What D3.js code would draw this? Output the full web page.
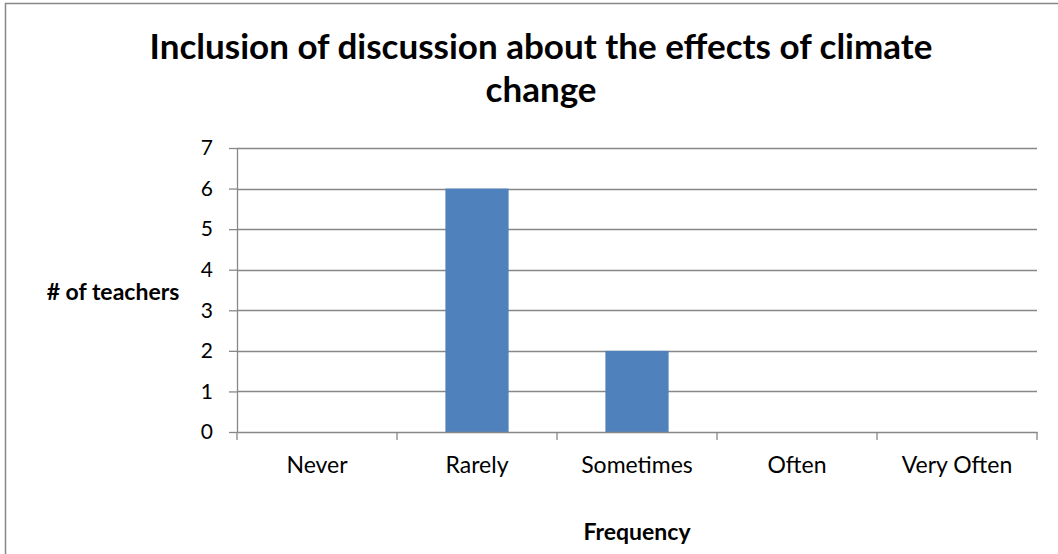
<!DOCTYPE html>
<html>
<head>
	<meta charset="utf-8">
	<title>Inclusion of discussion</title>
	<style type="text/css">
		body { margin: 0; background: white; }
		svg { display: block; font-family: Lato, "Open Sans", sans-serif; }
	</style>
</head>
<body>

	<svg width=1058 height=554 class="chart"></svg>

	<script type="text/javascript" src="https://cdn.jsdelivr.net/npm/d3@7"></script>

	<script type="text/javascript">

		var categories = ['Never', 'Rarely', 'Sometimes', 'Often', 'Very Often']
		var counts = [0, 6, 2, 0, 0]
		var yTicks = [0, 1, 2, 3, 4, 5, 6, 7]
		var titleLines = ['Inclusion of discussion about the effects of climate', 'change']

		var svg = d3.select('.chart')

		// outer chart border
		svg.append('rect')
			.attr('x', 5.5).attr('y', 3.5)
			.attr('width', 1070).attr('height', 570)
			.attr('fill', 'white')
			.attr('stroke', '#878787')
			.attr('stroke-width', 1.5)

		var margin = {top: 148, left: 237, right: 21, bottom: 122}
		var width = 1058 - margin.left - margin.right
		var height = 554 - margin.top - margin.bottom

		var x = d3.scaleBand().domain(categories).range([0, width])
		var y = d3.scaleLinear().domain([0, 7]).range([height, 0])

		var g = svg.append('g')
			.attr('transform', 'translate(' + margin.left + ',' + margin.top + ')')

		// gridlines
		g.selectAll('.grid')
			.data(yTicks.filter(function(d) { return d > 0 }))
			.enter().append('line')
			.attr('x1', 0).attr('x2', width)
			.attr('y1', function(d) { return Math.round(y(d)) + 0.5 })
			.attr('y2', function(d) { return Math.round(y(d)) + 0.5 })
			.attr('stroke', '#878787').attr('stroke-width', 1.3)

		// bars
		var barW = x.bandwidth() * 0.395
		g.selectAll('.bar')
			.data(counts)
			.enter().append('rect')
			.attr('x', function(d, i) { return x(categories[i]) + (x.bandwidth() - barW) / 2 })
			.attr('y', function(d) { return y(d) })
			.attr('width', barW)
			.attr('height', function(d) { return height - y(d) })
			.attr('fill', '#4F81BD')

		// y axis
		var yAxis = g.append('g')
			.call(d3.axisLeft(y).tickValues(yTicks).tickFormat(d3.format('d'))
				.tickSize(8).tickSizeOuter(0).tickPadding(16))
		yAxis.selectAll('path, line').attr('stroke', '#878787').attr('stroke-width', 1.3)
		yAxis.selectAll('text').attr('font-size', 21).attr('fill', '#000').attr('font-family', 'Lato, sans-serif')

		// x axis
		var xAxis = g.append('g')
			.attr('transform', 'translate(0,' + height + ')')
			.call(d3.axisBottom(x).tickSize(0).tickPadding(25))
		xAxis.select('.domain').attr('stroke', '#878787').attr('stroke-width', 1.3)
		xAxis.selectAll('text').attr('font-size', 23).attr('fill', '#000').attr('font-family', 'Lato, sans-serif')

		// x ticks at band boundaries
		var bounds = categories.map(function(c) { return x(c) }).concat([width])
		g.selectAll('.xtick')
			.data(bounds)
			.enter().append('line')
			.attr('x1', function(d) { return d }).attr('x2', function(d) { return d })
			.attr('y1', height).attr('y2', height + 8)
			.attr('stroke', '#878787').attr('stroke-width', 1.3)

		// title
		svg.append('text')
			.attr('x', 541).attr('text-anchor', 'middle')
			.attr('font-size', 35).attr('font-weight', 'bold')
			.selectAll('tspan')
			.data(titleLines)
			.enter().append('tspan')
			.attr('x', 541)
			.attr('y', function(d, i) { return 59 + i * 43 })
			.text(function(d) { return d })

		// axis titles
		svg.append('text')
			.attr('x', 113).attr('y', 300)
			.attr('text-anchor', 'middle')
			.attr('font-size', 23).attr('font-weight', 'bold')
			.text('# of teachers')

		svg.append('text')
			.attr('x', 637).attr('y', 540)
			.attr('text-anchor', 'middle')
			.attr('font-size', 23).attr('font-weight', 'bold')
			.text('Frequency')

	</script>

</body>
</html>
